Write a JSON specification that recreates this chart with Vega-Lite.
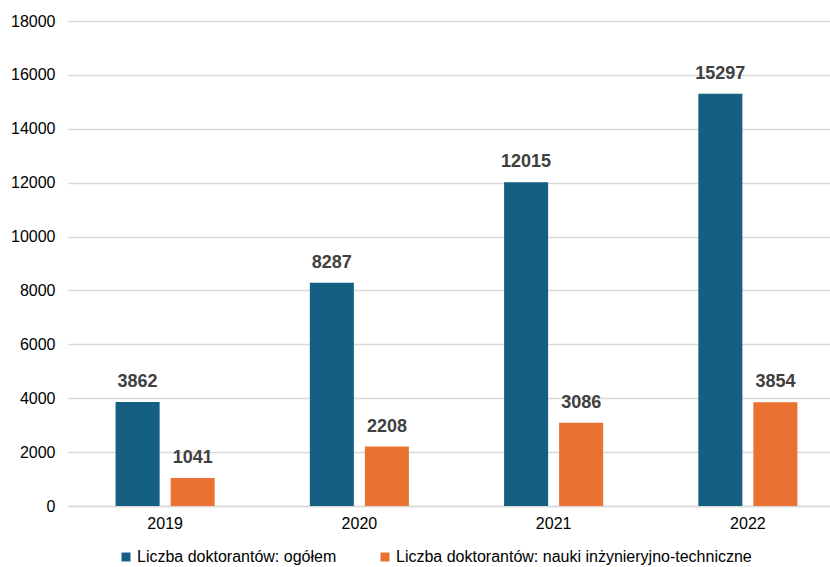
{
  "$schema": "https://vega.github.io/schema/vega-lite/v6.json",
  "autosize": "none",
  "width": 777,
  "height": 485,
  "padding": {"left": 68, "top": 21, "right": 0, "bottom": 61},
  "background": "white",
  "config": {
    "font": "Liberation Sans",
    "view": {"stroke": null}
  },
  "data": {
    "values": [
      {"year": "2019", "series": "Liczba doktorantów: ogółem", "value": 3862},
      {"year": "2019", "series": "Liczba doktorantów: nauki inżynieryjno-techniczne", "value": 1041},
      {"year": "2020", "series": "Liczba doktorantów: ogółem", "value": 8287},
      {"year": "2020", "series": "Liczba doktorantów: nauki inżynieryjno-techniczne", "value": 2208},
      {"year": "2021", "series": "Liczba doktorantów: ogółem", "value": 12015},
      {"year": "2021", "series": "Liczba doktorantów: nauki inżynieryjno-techniczne", "value": 3086},
      {"year": "2022", "series": "Liczba doktorantów: ogółem", "value": 15297},
      {"year": "2022", "series": "Liczba doktorantów: nauki inżynieryjno-techniczne", "value": 3854}
    ]
  },
  "encoding": {
    "x": {
      "field": "year", "type": "nominal",
      "scale": {"paddingInner": 0.49, "paddingOuter": 0.245},
      "axis": {
        "title": null, "labelAngle": 0, "labelFontSize": 16, "labelColor": "#000000",
        "ticks": false, "domainColor": "#d9d9d9", "domainWidth": 1.5, "labelPadding": 9
      }
    },
    "xOffset": {
      "field": "series", "type": "nominal",
      "sort": ["Liczba doktorantów: ogółem", "Liczba doktorantów: nauki inżynieryjno-techniczne"],
      "scale": {"paddingInner": 0.2, "paddingOuter": 0}
    },
    "y": {
      "field": "value", "type": "quantitative",
      "scale": {"domain": [0, 18000], "nice": false},
      "axis": {
        "title": null, "values": [0, 2000, 4000, 6000, 8000, 10000, 12000, 14000, 16000, 18000],
        "format": "d", "labelFontSize": 16, "labelColor": "#000000", "ticks": false,
        "domain": false, "gridColor": "#d9d9d9", "gridWidth": 1.5, "labelPadding": 13
      }
    }
  },
  "layer": [
    {
      "mark": {"type": "bar"},
      "encoding": {
        "color": {
          "field": "series", "type": "nominal",
          "sort": ["Liczba doktorantów: ogółem", "Liczba doktorantów: nauki inżynieryjno-techniczne"],
          "scale": {
            "domain": ["Liczba doktorantów: ogółem", "Liczba doktorantów: nauki inżynieryjno-techniczne"],
            "range": ["#156082", "#E97132"]
          },
          "legend": {
            "title": null, "orient": "none", "direction": "horizontal",
            "legendX": 50, "legendY": 528,
            "symbolType": "square", "symbolSize": 80, "symbolStrokeWidth": 0,
            "labelFontSize": 16, "labelColor": "#000000", "columnPadding": 40,
            "labelOffset": 3, "labelLimit": 500
          }
        }
      }
    },
    {
      "mark": {"type": "text", "baseline": "bottom", "dy": -11, "fontSize": 18, "fontWeight": "bold", "color": "#404040"},
      "encoding": {
        "text": {"field": "value", "type": "quantitative", "format": "d"}
      }
    }
  ]
}
